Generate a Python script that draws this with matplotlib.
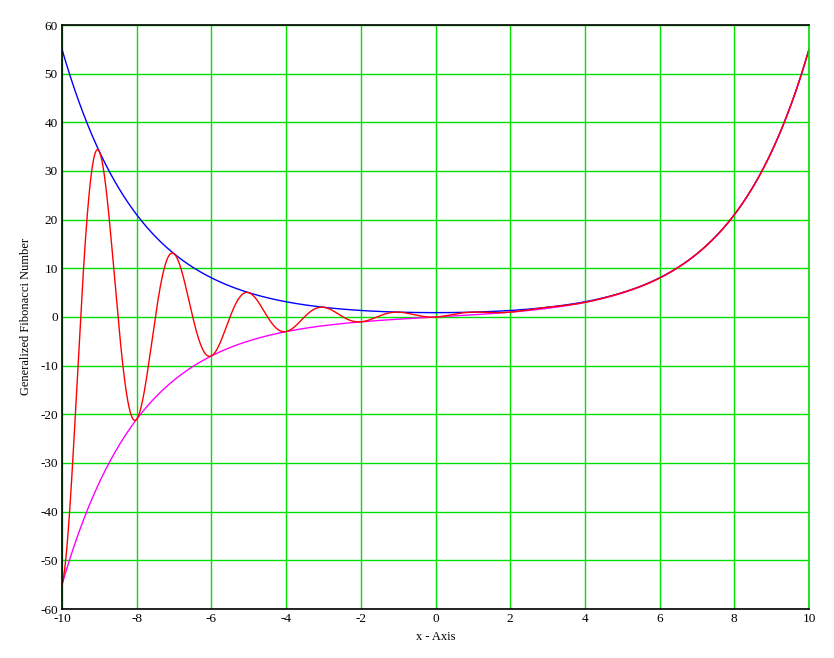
import numpy as np
import matplotlib
matplotlib.use("Agg")
import matplotlib.pyplot as plt

plt.rcParams["axes.unicode_minus"] = False

# Generalized Fibonacci function F(x) = (phi^x - cos(pi x) phi^-x) / sqrt(5)
x_min, x_max = -10, 10
x_ticks = [-10, -8, -6, -4, -2, 0, 2, 4, 6, 8, 10]
y_ticks = [-60, -50, -40, -30, -20, -10, 0, 10, 20, 30, 40, 50, 60]
phi = (1 + np.sqrt(5)) / 2
sqrt5 = np.sqrt(5)

x = np.linspace(x_min, x_max, 2001)
fib = (phi**x - np.cos(np.pi * x) * phi**(-x)) / sqrt5
upper = (phi**x + phi**(-x)) / sqrt5
lower = (phi**x - phi**(-x)) / sqrt5

fig = plt.figure(figsize=(8.34, 6.58), dpi=100)
ax = fig.add_axes([62/834, 1 - 609/658, (809-62)/834, (609-25)/658])
ax.set_xlim(x_min, x_max)
ax.set_ylim(-60, 60)
ax.set_xticks(x_ticks)
ax.set_yticks(y_ticks)
ax.grid(True, color="#00e000", linewidth=1)
ax.set_axisbelow(True)
ax.plot(x, upper, color="blue", lw=1)
ax.plot(x, lower, color="magenta", lw=1)
ax.plot(x, fib, color="red", lw=1)
for s in ax.spines.values():
    s.set_color("black")
    s.set_linewidth(1.2)
ax.spines["right"].set_color("#00e000")
ax.tick_params(length=0, labelsize=9.5, pad=3)
for lab in ax.get_xticklabels() + ax.get_yticklabels():
    lab.set_fontfamily("Liberation Serif")
ax.set_xlabel("x - Axis", fontfamily="Liberation Serif", fontsize=9, labelpad=4)
ax.set_ylabel("Generalized Fibonacci Number", fontfamily="Liberation Serif", fontsize=9, labelpad=6)
fig.savefig("out.png", dpi=100)
